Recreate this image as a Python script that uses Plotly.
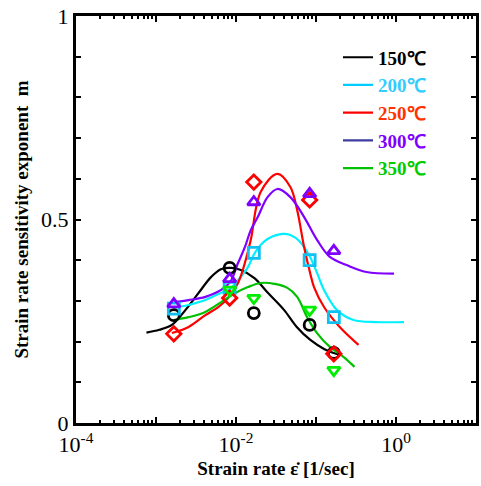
import plotly.graph_objects as go

# ---- experimental points ----
rates = [1.67e-3, 8.33e-3, 1.67e-2, 8.33e-2, 1.67e-1]
m150 = [0.265, 0.381, 0.270, 0.241, 0.172]
m200 = [0.281, 0.332, 0.418, 0.400, 0.260]
m250 = [0.219, 0.307, 0.592, 0.548, 0.170]
m300 = [0.292, 0.354, 0.543, 0.563, 0.423]
m350 = [None, 0.327, 0.307, 0.278, 0.130]

# ---- fitted curves ----
c150_x = [7.6e-4, 1.1e-3, 1.58e-3, 2.34e-3, 3.39e-3, 4.9e-3, 6.46e-3, 8.7e-3, 1.15e-2, 1.7e-2,
          2.5e-2, 3.98e-2, 5.75e-2, 8.5e-2, 0.126, 0.166, 0.209]
c150_y = [0.222, 0.229, 0.241, 0.278, 0.319, 0.359, 0.378, 0.381, 0.376, 0.356,
          0.320, 0.278, 0.236, 0.204, 0.182, 0.172, 0.167]

c200_x = [1.67e-3, 2.55e-3, 4.14e-3, 6.34e-3, 8.43e-3, 1.06e-2, 1.41e-2, 1.72e-2, 2.28e-2,
          3.6e-2, 4.78e-2, 6.34e-2, 8.43e-2, 0.103, 0.126, 0.182, 0.294, 0.566, 1.26]
c200_y = [0.283, 0.290, 0.302, 0.319, 0.329, 0.351, 0.383, 0.418, 0.447,
          0.464, 0.462, 0.445, 0.408, 0.369, 0.327, 0.278, 0.253, 0.248, 0.248]

c250_x = [1.58e-3, 2.55e-3, 4.14e-3, 6.0e-3, 7.96e-3, 1.06e-2, 1.29e-2, 1.53e-2, 2.04e-2,
          3.3e-2, 4.78e-2, 5.82e-2, 7.11e-2, 8.43e-2, 9.44e-2, 0.126, 0.198, 0.34]
c250_y = [0.221, 0.236, 0.265, 0.285, 0.307, 0.344, 0.393, 0.450, 0.568,
          0.612, 0.580, 0.523, 0.432, 0.369, 0.334, 0.285, 0.236, 0.192]

c300_x = [1.67e-3, 2.55e-3, 4.14e-3, 6.53e-3, 8.43e-3, 1.06e-2, 1.29e-2, 1.53e-2, 1.87e-2,
          2.48e-2, 3.3e-2, 4.78e-2, 7.11e-2, 0.103, 0.149, 0.242, 0.427, 0.944]
c300_y = [0.297, 0.302, 0.310, 0.327, 0.346, 0.393, 0.432, 0.474, 0.506,
          0.555, 0.575, 0.555, 0.506, 0.450, 0.408, 0.388, 0.371, 0.367]

c350_x = [1.67e-3, 2.55e-3, 4.14e-3, 6.53e-3, 9.73e-3, 1.41e-2, 2.04e-2, 3.03e-2, 4.39e-2,
          5.82e-2, 7.74e-2, 0.103, 0.149, 0.222, 0.303]
c350_y = [0.253, 0.260, 0.273, 0.297, 0.319, 0.334, 0.344, 0.342, 0.332,
          0.310, 0.260, 0.221, 0.187, 0.162, 0.138]

labels = ["150℃", "200℃", "250℃", "300℃", "350℃"]
line_colors = ["#000000", "#00f0ff", "#ff0000", "#8000ff", "#00c000"]
legend_line_colors = ["#000000", "#00ccff", "#ff0000", "#3c3ca0", "#00c000"]
text_colors = ["#000000", "#33ccff", "#ff3300", "#8000ff", "#00cc00"]
marker_colors = ["#000000", "#10c0f0", "#ff0000", "#8000ff", "#00ee00"]
symbols = ["circle-open", "square-open", "diamond-open", "triangle-up-open", "triangle-down-open"]

curves = [(c150_x, c150_y), (c200_x, c200_y), (c250_x, c250_y), (c300_x, c300_y), (c350_x, c350_y)]
points = [m150, m200, m250, m300, m350]

fig = go.Figure()

for (cx, cy), col in zip(curves, line_colors):
    fig.add_trace(go.Scatter(x=cx, y=cy, mode="lines", line=dict(color=col, width=2.2, shape="spline", smoothing=1.0),
                             showlegend=False, hoverinfo="skip"))

for m, col, sym in zip(points, marker_colors, symbols):
    fig.add_trace(go.Scatter(x=rates, y=m, mode="markers",
                             marker=dict(symbol=sym, size=11, color=col, line=dict(color=col, width=2.8)),
                             showlegend=False))

for lab, lc, tc in zip(labels, legend_line_colors, text_colors):
    fig.add_trace(go.Scatter(x=[None], y=[None], mode="lines", line=dict(color=lc, width=2.2),
                             name=f'<span style="color:{tc}">{lab}</span>', showlegend=True))

major_x = [1e-4, 1e-3, 1e-2, 1e-1, 1e0, 1e1]
major_x_text = ["10<sup>-4</sup>", "", "10<sup>-2</sup>", "", "10<sup>0</sup>", ""]
minor_x = [k * d for d in [1e-4, 1e-3, 1e-2, 1e-1, 1e0] for k in range(2, 10)]

font_family = "Liberation Serif, Times New Roman, serif"

fig.update_layout(
    width=481, height=486,
    margin=dict(l=76, r=2, t=16, b=63),
    paper_bgcolor="white", plot_bgcolor="white",
    font=dict(family=font_family, size=21, color="black"),
    showlegend=True,
    legend=dict(x=0.655, y=0.945, xanchor="left", yanchor="top", bgcolor="rgba(0,0,0,0)",
                font=dict(family=font_family, size=19, weight="bold"), itemwidth=30,
                tracegroupgap=0),
    xaxis=dict(type="log", range=[-4, 1], tickmode="array", tickvals=major_x, ticktext=major_x_text,
               ticks="inside", ticklen=6, tickwidth=2, tickcolor="black",
               showline=True, linewidth=3, linecolor="black", mirror="allticks",
               showgrid=False, zeroline=False,
               minor=dict(tickmode="array", tickvals=minor_x, ticks="inside", ticklen=3, tickwidth=1.5,
                          tickcolor="black", showgrid=False),
               tickfont=dict(family=font_family, size=22),
               title=dict(text="<b>Strain rate ε̇ [1/sec]</b>", font=dict(family=font_family, size=19),
                          standoff=6)),
    yaxis=dict(range=[0, 1], tickmode="array", tickvals=[0, 0.5, 1], ticktext=["0", "0.5", "1"],
               ticks="inside", ticklen=5, tickwidth=2, tickcolor="black",
               showline=True, linewidth=3, linecolor="black", mirror="allticks",
               showgrid=False, zeroline=False,
               minor=dict(dtick=0.1, ticks="inside", ticklen=5, tickwidth=2, tickcolor="black", showgrid=False),
               tickfont=dict(family=font_family, size=22),
               title=dict(text="<b>Strain rate sensitivity exponent  m</b>", font=dict(family=font_family, size=19),
                          standoff=8)),
)

fig.write_html("out.html")
